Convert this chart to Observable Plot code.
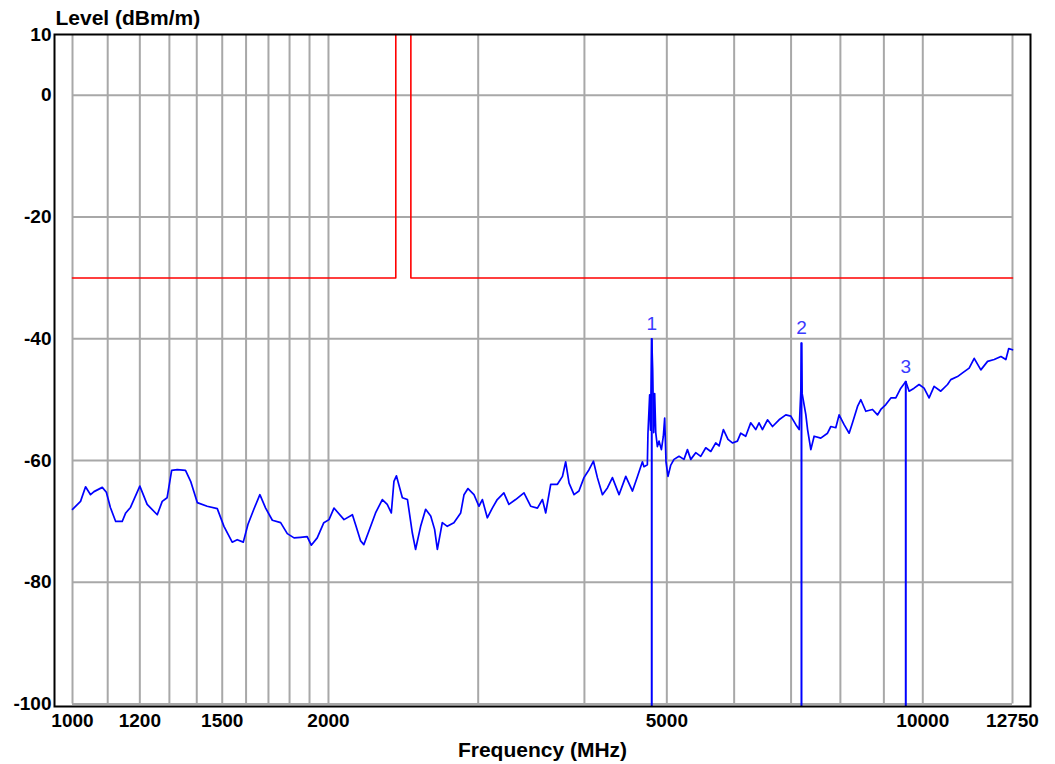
<!DOCTYPE html>
<html><head><meta charset="utf-8">
<script src="https://cdn.jsdelivr.net/npm/d3@7"></script>
<script src="https://cdn.jsdelivr.net/npm/@observablehq/plot@0.6"></script>
<style>body{margin:0;background:#fff}</style>
</head><body><div id="chart"></div>
<script>
// Measured field strength (blue trace)
const traceFreq = [1000,1022,1036,1050,1060,1084,1096,1108,1124,1144,1155,1170,1200,1224,1258,1275,1292,1308,1328,1358,1377,1402,1440,1480,1507,1541,1562,1588,1608,1634,1661,1687,1718,1757,1789,1822,1854,1888,1909,1940,1975,2003,2030,2086,2134,2152,2182,2201,2231,2272,2314,2345,2371,2388,2404,2443,2477,2510,2532,2567,2602,2638,2666,2686,2722,2759,2809,2861,2887,2918,2966,3006,3034,3075,3117,3159,3216,3260,3320,3396,3458,3522,3570,3602,3651,3718,3769,3802,3837,3889,3941,3995,4050,4099,4143,4200,4257,4315,4393,4474,4556,4618,4680,4700,4743,4751,4773,4784,4800,4812,4825,4838,4852,4874,4896,4927,4953,4971,4989,5016,5052,5098,5168,5238,5287,5335,5407,5481,5556,5632,5708,5760,5828,5901,5972,6053,6108,6191,6275,6361,6418,6478,6567,6657,6776,6901,6995,7091,7155,7188,7200,7213,7286,7320,7385,7451,7586,7726,7796,7901,7972,8081,8192,8267,8380,8456,8570,8727,8846,8926,9048,9172,9296,9422,9550,9637,9768,9900,10035,10172,10311,10499,10693,10788,10986,11136,11338,11494,11703,11918,12134,12357,12523,12621,12750];
const traceLevel = [-68.0,-66.7,-64.3,-65.6,-65.1,-64.4,-65.2,-67.7,-70.0,-70.0,-68.6,-67.7,-64.2,-67.2,-68.9,-66.7,-66.1,-61.6,-61.5,-61.6,-63.4,-66.9,-67.5,-67.9,-70.8,-73.4,-73.0,-73.4,-70.5,-68.0,-65.6,-67.8,-69.8,-70.2,-72.0,-72.7,-72.6,-72.5,-73.9,-72.7,-70.2,-69.7,-67.8,-69.7,-68.9,-70.5,-73.2,-73.8,-71.6,-68.6,-66.4,-67.2,-68.6,-63.4,-62.5,-66.1,-66.4,-71.9,-74.6,-70.8,-68.0,-69.1,-71.3,-74.6,-70.2,-70.8,-70.2,-68.6,-65.6,-64.6,-65.6,-67.5,-66.4,-69.4,-67.8,-66.4,-65.3,-67.2,-66.4,-65.3,-67.5,-67.8,-66.4,-68.6,-63.9,-63.9,-62.6,-60.2,-63.7,-65.6,-65.0,-62.8,-61.5,-60.1,-62.8,-65.6,-64.5,-62.8,-65.6,-62.6,-65.0,-62.6,-60.2,-61.0,-60.7,-55.5,-49.2,-55.0,-40.0,-45.1,-55.4,-49.0,-55.4,-57.7,-56.8,-58.2,-56.0,-53.0,-60.2,-62.6,-60.8,-59.8,-59.3,-59.8,-58.2,-59.8,-58.7,-59.3,-57.9,-58.5,-57.1,-57.6,-54.9,-56.5,-57.1,-56.8,-55.5,-56.0,-53.8,-54.9,-53.8,-54.9,-53.3,-54.4,-53.3,-52.5,-52.7,-54.1,-54.9,-48.4,-40.7,-49.0,-52.5,-54.9,-58.2,-56.0,-56.3,-55.5,-54.4,-54.6,-52.5,-54.1,-55.5,-53.8,-51.1,-50.0,-51.9,-51.6,-52.5,-51.6,-50.8,-49.7,-49.7,-48.1,-47.0,-48.6,-48.1,-47.5,-48.1,-49.7,-47.8,-48.6,-47.5,-46.7,-46.2,-45.6,-44.8,-43.2,-45.1,-43.7,-43.4,-42.9,-43.4,-41.6,-41.8];

// Limit line (red), two segments around the 2400-2500 MHz band
const limitSeg = ["a","a","a","b","b","b"];
const limitFreq = [1000,2400,2400,2500,2500,12750];
const limitLevel = [-30,-30,10,10,-30,-30];

// Markers
const markerLabel = ["1","2","3"];
const markerFreq = [4800,7200,9550];
const markerLevel = [-40.0,-40.7,-47.0];

// Grid and ticks
const xGrid = [1000,1100,1200,1300,1400,1500,1600,1700,1800,1900,2000,3000,4000,5000,6000,7000,8000,9000,10000,12750];
const yGrid = [0,-20,-40,-60,-80,-100];
const xTicks = [1000,1200,1500,2000,5000,10000,12750];
const yTicks = [10,0,-20,-40,-60,-80,-100];

const trace = traceFreq.map((f,i)=>({f, level: traceLevel[i]}));
const limit = limitFreq.map((f,i)=>({f, level: limitLevel[i], seg: limitSeg[i]}));
const markers = markerFreq.map((f,i)=>({f, level: markerLevel[i], label: markerLabel[i]}));

const chart = Plot.plot({
  width: 1055, height: 764,
  marginLeft: 54, marginRight: 25, marginTop: 34, marginBottom: 58,
  style: {fontFamily: "'Liberation Sans', Arial, sans-serif", fontSize: "19px", fontWeight: "bold", color: "black", background: "white"},
  x: {type: "log", domain: [952.4, 13387]},
  y: {domain: [-100.4, 10]},
  marks: [
    Plot.ruleX(xGrid, {x: d=>d, y1: -100, y2: 10, stroke: "#a8a8a8", strokeWidth: 2}),
    Plot.ruleY(yGrid, {y: d=>d, x1: 1000, x2: 12750, stroke: "#a8a8a8", strokeWidth: 2}),
    Plot.line(limit, {x: "f", y: "level", z: "seg", stroke: "#ff0000", strokeWidth: 1.6}),
    Plot.line(trace, {x: "f", y: "level", stroke: "#0000ff", strokeWidth: 1.7}),
    Plot.ruleX(markers, {x: "f", y1: "level", y2: -100.4, stroke: "#0000ff", strokeWidth: 2}),
    Plot.text(markers, {x: "f", y: "level", text: "label", dy: -15, fill: "#3a3aff", fontWeight: "normal", fontSize: 19}),
    Plot.frame({stroke: "black", strokeWidth: 2}),
    Plot.axisX(xTicks, {tickSize: 0, tickPadding: 7, tickFormat: d => String(d), label: null}),
    Plot.axisY(yTicks, {tickSize: 0, tickPadding: 3, tickFormat: d => String(d), label: null}),
    Plot.text(["Level (dBm/m)"], {text: d => d, frameAnchor: "top-left", dx: 1, dy: -16, textAnchor: "start", lineAnchor: "middle", fontSize: 21}),
    Plot.text(["Frequency (MHz)"], {text: d => d, frameAnchor: "bottom", dy: 44, lineAnchor: "middle", fontSize: 21})
  ]
});
document.getElementById("chart").appendChild(chart);
</script>
</body></html>
